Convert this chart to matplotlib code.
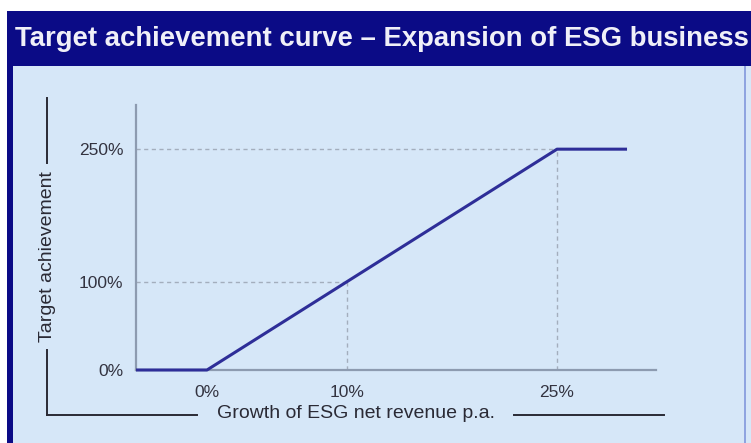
import matplotlib as mpl
mpl.use('agg')
import matplotlib.pyplot as plt
from matplotlib.patches import Rectangle
from matplotlib.lines import Line2D

plt.rcParams['font.family'] = ['Liberation Sans', 'DejaVu Sans']

# data
growth = [-5.07, 0, 10, 25, 30]          # growth of ESG net revenue p.a. (%)
achievement = [0, 0, 100, 250, 250]      # target achievement (%)
x_ticks = [0, 10, 25]
x_ticklabels = ['0%', '10%', '25%']
y_ticks = [0, 100, 250]
y_ticklabels = ['0%', '100%', '250%']
guides = [(10, 100), (25, 250)]          # dashed helper lines

title = 'Target achievement curve \u2013 Expansion of ESG business'
xlab = 'Growth of ESG net revenue p.a.'
ylab = 'Target achievement'

W, H = 751, 443
navy = '#0b0b86'
panel = '#d6e7f8'
curve_col = '#2e2e98'
axis_col = '#8d9bb0'
guide_col = '#a3aebd'
ink = '#2a2a35'

fig = plt.figure(figsize=(W / 100, H / 100), dpi=100)
fig.patch.set_facecolor('white')

def fx(x):
  return x / W

def fy(y):
  return 1 - y / H

def rect(x0, y0, x1, y1, color):
  fig.add_artist(Rectangle((fx(x0), fy(y1)), fx(x1) - fx(x0), fy(y0) - fy(y1),
                           transform=fig.transFigure, facecolor=color,
                           edgecolor='none', zorder=0))

def seg(x0, y0, x1, y1, color=ink, lw=1.4):
  fig.add_artist(Line2D([fx(x0), fx(x1)], [fy(y0), fy(y1)],
                        transform=fig.transFigure, color=color, lw=lw))

# background blocks
rect(7, 11, 751, 443, navy)
rect(13, 66, 744, 443, panel)
rect(744, 66, 746, 443, '#8fa4e0')
rect(746, 66, 751, 443, panel)

fig.text(fx(15), fy(38.5), title, color='#f0f0f8', fontsize=19.8,
         fontweight='bold', ha='left', va='center')

# main axes: x px 136..656, y px 105..370
ax = fig.add_axes([fx(136), fy(370), fx(656) - fx(136), fy(105) - fy(370)])
ax.set_facecolor('none')
ax.set_xlim(-5.07, 32.07)
ax.set_ylim(0, 300)

for s in ['top', 'right']:
  ax.spines[s].set_visible(False)
for s in ['left', 'bottom']:
  ax.spines[s].set_color(axis_col)
  ax.spines[s].set_linewidth(1.6)

for gx, gy in guides:
  ax.plot([ax.get_xlim()[0], gx], [gy, gy], ls=(0, (3, 2.5)), color=guide_col, lw=1.0)
  ax.plot([gx, gx], [0, gy], ls=(0, (3, 2.5)), color=guide_col, lw=1.0)

ax.plot(growth, achievement, color=curve_col, lw=2.2, clip_on=False,
        solid_capstyle='butt', zorder=5)

ax.set_xticks(x_ticks)
ax.set_xticklabels(x_ticklabels)
ax.set_yticks(y_ticks)
ax.set_yticklabels(y_ticklabels)
ax.tick_params(axis='both', length=0, labelsize=12.5, labelcolor='#333340')
ax.tick_params(axis='x', pad=11)
ax.tick_params(axis='y', pad=9)

# bracket-style axis titles
seg(47, 98, 47, 163)
seg(47, 350, 47, 415)
seg(47, 415, 197, 415)
seg(514, 415, 664, 415)
fig.text(fx(47), fy(257), ylab, rotation=90, fontsize=14, color=ink,
         ha='center', va='center')
fig.text(fx(356), fy(413), xlab, fontsize=14, color=ink,
         ha='center', va='center')

plt.savefig('out.png', dpi=100)
